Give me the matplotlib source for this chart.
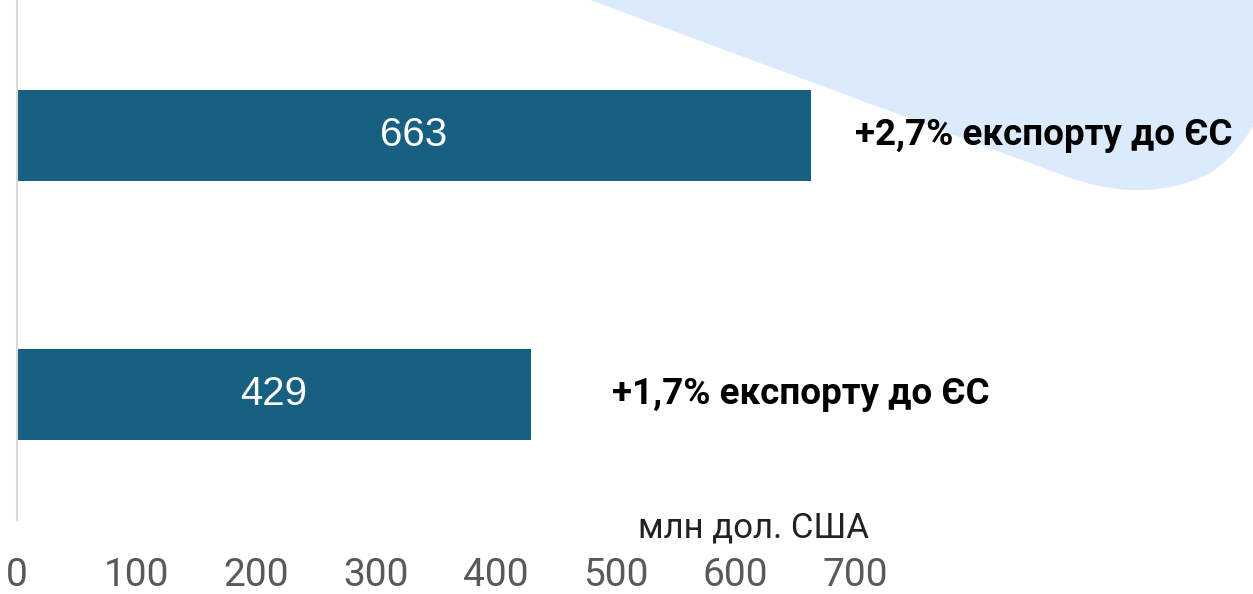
import matplotlib
matplotlib.use("Agg")
import matplotlib.pyplot as plt
from matplotlib.path import Path
from matplotlib.patches import PathPatch

# ---------------- data ----------------
values = [663, 429]
notes = ["+2,7% експорту до ЄС", "+1,7% експорту до ЄС"]
note_x = [700, 497]
ticks = [0, 100, 200, 300, 400, 500, 600, 700]
unit = "млн дол. США"

bar_color = "#186081"
W, H = 1253, 594

fig = plt.figure(figsize=(W / 100, H / 100), dpi=100)

# decorative light-blue shape in the top right corner (pixel coords -> figure fraction)
pts = [(590, 0), (1065, 176), (1105, 191), (1160, 200), (1212, 172),
       (1232, 158), (1248, 138), (1262, 110), (1262, -5), (590, -5)]
codes = [Path.MOVETO, Path.LINETO, Path.CURVE4, Path.CURVE4, Path.CURVE4,
         Path.CURVE4, Path.CURVE4, Path.CURVE4, Path.LINETO, Path.CLOSEPOLY]
verts = [(x / W, 1 - y / H) for x, y in pts]
fig.patches.append(PathPatch(Path(verts, codes), transform=fig.transFigure,
                             facecolor="#dcebfb", edgecolor="none", zorder=-1))

ax = fig.add_axes([17 / W, 1 - 520 / H, 1 - 17 / W, 520 / H], zorder=1)
ax.patch.set_visible(False)

ypos = [1, 0]
ax.barh(ypos, values, height=0.351, color=bar_color, zorder=2)
ax.set_xlim(0, (W - 17) / 1.197)
ax.set_ylim(-0.4846, 1.523)

for y, v in zip(ypos, values):
    ax.text(v / 2, y, str(v), ha="center", va="center", color="white",
            fontsize=29, family="Liberation Sans", zorder=3)

for y, n, x in zip(ypos, notes, note_x):
    ax.text(x, y, n, ha="left", va="center", color="black",
            fontsize=26.5, fontweight="bold", family="Roboto", zorder=3)

ax.set_xticks(ticks)
ax.set_xticklabels([str(t) for t in ticks], family="Roboto", fontsize=28, color="#595959")
ax.tick_params(axis="x", length=0, pad=27)
ax.set_yticks([])

for s in ["top", "right", "bottom"]:
    ax.spines[s].set_visible(False)
ax.spines["left"].set_color("#d9d9d9")
ax.spines["left"].set_linewidth(1.5)

fig.text(753 / W, 1 - 528 / H, unit, ha="center", va="center",
         family="Roboto", fontsize=25, color="#222222")

fig.savefig("out.png", dpi=100)
